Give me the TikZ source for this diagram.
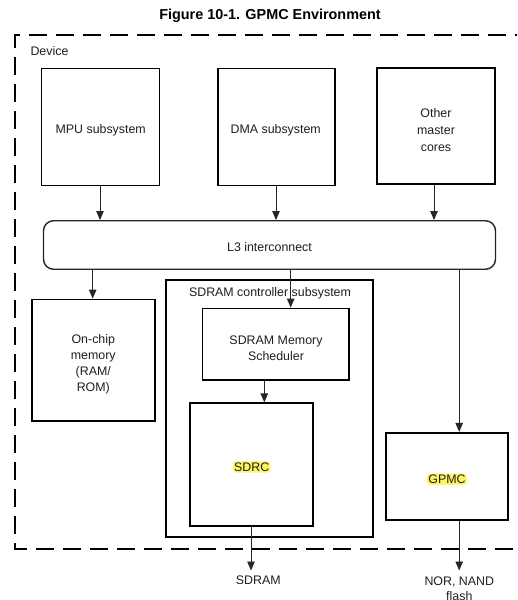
\documentclass[tikz,border=0pt]{standalone}
\usepackage{fontspec}
\setmainfont{Liberation Sans}
\usetikzlibrary{arrows.meta,calc}
\begin{document}
\begin{tikzpicture}[x=1pt,y=-1pt,
  every node/.style={font=\fontsize{12.4}{16}\selectfont, text=black!88, align=center},
  blockbox/.style={draw=black, line width=1.8pt, inner sep=0pt},
  arr/.style={draw=black!85, line width=0.9pt, -{Triangle[length=9pt,width=7.5pt]}},
  hl/.style={fill=yellow!95!orange!60, rounded corners=3pt, inner sep=1.2pt},
  devborder/.style={draw=black, line width=1.9pt, dash pattern=on 18pt off 9pt}]
  \path[use as bounding box, clip] (0,0) rectangle (517,600);
  \fill[white] (0,0) rectangle (517,600);

  % title
  \node[font=\fontsize{14.4}{16}\selectfont\bfseries, text=black] (title) at (270,15.5) {Figure 10-1. GPMC Environment};

  % device outline (right side runs past the page edge)
  \draw[devborder] (560,35) -- (15,35) -- (15,549) -- (560,549);
  \node[anchor=west] (device) at (27,51) {Device};

  % bus masters
  \node[blockbox, minimum width=118pt, minimum height=117pt] (mpu) at (100.5,127) {};
  \node (mputxt) at (100.7,130) {MPU subsystem};
  \node[blockbox, minimum width=117pt, minimum height=117pt] (dma) at (276.5,127) {};
  \node (dmatxt) at (275.7,130) {DMA subsystem};
  \node[blockbox, minimum width=118pt, minimum height=116pt] (other) at (435.8,126.3) {};
  \node (othertxt) at (436,130) {Other\\[1pt]master\\[1pt]cores};

  % interconnect
  \node[draw=black!85, line width=1.4pt, rounded corners=10pt, minimum width=452pt, minimum height=48.5pt] (l3) at (269.5,245) {};
  \node (l3txt) at (269.5,247.5) {L3 interconnect};

  % on-chip memory
  \node[blockbox, minimum width=123pt, minimum height=121.5pt] (onchip) at (93.3,360.2) {};
  \node (onchiptxt) at (93.3,364) {On-chip\\memory\\(RAM/\\ROM)};

  % SDRAM controller subsystem
  \node[blockbox, minimum width=207.5pt, minimum height=256.5pt] (sdsub) at (269.5,408.4) {};
  \node (sdsublbl) at (270,293.3) {SDRAM controller subsystem};
  \node[blockbox, minimum width=146.5pt, minimum height=71.5pt] (sched) at (275.7,344.2) {};
  \node (schedtxt) at (276,348) {SDRAM Memory\\Scheduler};
  \node[blockbox, minimum width=123pt, minimum height=122.5pt] (sdrc) at (251.7,464.5) {};
  \node[hl] (sdrctxt) at (251.7,467) {SDRC};

  % GPMC
  \node[blockbox, minimum width=122.5pt, minimum height=87pt] (gpmc) at (447,476.3) {};
  \node[hl] (gpmctxt) at (447,479.3) {GPMC};

  % external labels
  \node (sdram) at (258.3,579.8) {SDRAM};
  \node[anchor=north] (flash) at (459.3,573) {NOR, NAND\\[-0.5pt]flash};

  % connector attachment points
  \coordinate (mpuX) at (100,0);
  \coordinate (dmaX) at (276,0);
  \coordinate (othX) at (434,0);
  \coordinate (onX) at (92.7,0);
  \coordinate (schX) at (290.7,0);
  \coordinate (sdrcX) at (264.3,0);
  \coordinate (gpX) at (459.2,0);
  \coordinate (sdramEnd) at (251,570.5);
  \coordinate (flashEnd) at (459.2,570.5);

  % masters into the interconnect
  \draw[arr] (mpu.south -| mpuX) -- (l3.north -| mpuX);
  \draw[arr] (dma.south -| dmaX) -- (l3.north -| dmaX);
  \draw[arr] (other.south -| othX) -- (l3.north -| othX);

  % interconnect to targets
  \draw[arr] (l3.south -| onX) -- (onchip.north -| onX);
  \draw[arr] (l3.south -| schX) -- (sched.north -| schX);
  \draw[arr] (l3.south -| gpX) -- (gpmc.north -| gpX);
  \draw[arr] (sched.south -| sdrcX) -- (sdrc.north -| sdrcX);

  % external memory ports
  \draw[arr] (sdrc.south -| sdramEnd) -- (sdramEnd);
  \draw[arr] (gpmc.south -| flashEnd) -- (flashEnd);
\end{tikzpicture}
\end{document}
